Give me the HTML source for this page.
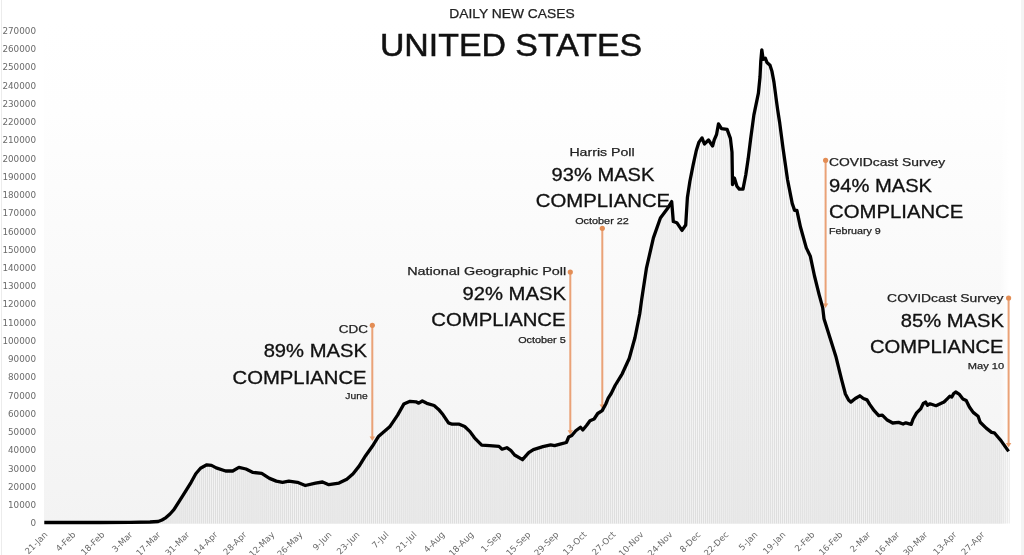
<!DOCTYPE html>
<html lang="en"><head><meta charset="utf-8"><title>Daily New Cases - United States</title>
<style>
html,body{margin:0;padding:0;background:#fff}
body{width:1024px;height:555px;position:relative;overflow:hidden;font-family:"Liberation Sans",sans-serif}
#plot{position:absolute;left:44.4px;top:20px;width:964.6px;height:503.5px;background:linear-gradient(to right,rgba(255,255,255,0) 0,rgba(255,255,255,0) 956px,#fff 100%),linear-gradient(to bottom,#ffffff 0%,#fefefe 18%,#f3f3f3 100%)}
#ledge{position:absolute;left:1px;top:0;width:1px;height:555px;background:#ececec}
#redge{position:absolute;left:1021px;top:0;width:3px;height:555px;background:#f4f4f4}
svg{position:absolute;left:0;top:0}
.yl{position:absolute;left:0;width:36px;text-align:right;font:8.8px/12px "DejaVu Sans","Liberation Sans",sans-serif;color:#6a6a6a;white-space:nowrap}
.xl{position:absolute;top:528px;width:60px;text-align:right;font:8.6px/10px "DejaVu Sans","Liberation Sans",sans-serif;color:#6a6a6a;white-space:nowrap;transform-origin:100% 50%;transform:rotate(-45deg)}
.t{position:absolute;white-space:nowrap}
</style></head><body>
<div id="ledge"></div><div id="redge"></div>
<div id="plot"></div>
<svg width="1024" height="555" viewBox="0 0 1024 555">
<path d="M44.86 522.5h1.1V523.5h-1.1zM46.89 522.5h1.1V523.5h-1.1zM48.91 522.5h1.1V523.5h-1.1zM50.94 522.5h1.1V523.5h-1.1zM52.96 522.5h1.1V523.5h-1.1zM54.99 522.5h1.1V523.5h-1.1zM57.01 522.5h1.1V523.5h-1.1zM59.04 522.5h1.1V523.5h-1.1zM61.06 522.5h1.1V523.5h-1.1zM63.09 522.5h1.1V523.5h-1.1zM65.11 522.5h1.1V523.5h-1.1zM67.14 522.5h1.1V523.5h-1.1zM69.16 522.5h1.1V523.5h-1.1zM71.19 522.5h1.1V523.5h-1.1zM73.21 522.5h1.1V523.5h-1.1zM75.24 522.5h1.1V523.5h-1.1zM77.26 522.5h1.1V523.5h-1.1zM79.29 522.5h1.1V523.5h-1.1zM81.31 522.5h1.1V523.5h-1.1zM83.34 522.5h1.1V523.5h-1.1zM85.36 522.5h1.1V523.5h-1.1zM87.39 522.5h1.1V523.5h-1.1zM89.41 522.5h1.1V523.5h-1.1zM91.44 522.5h1.1V523.5h-1.1zM93.46 522.5h1.1V523.5h-1.1zM95.49 522.5h1.1V523.5h-1.1zM97.51 522.5h1.1V523.5h-1.1zM99.54 522.5h1.1V523.5h-1.1zM101.56 522.5h1.1V523.5h-1.1zM103.59 522.5h1.1V523.5h-1.1zM105.61 522.5h1.1V523.5h-1.1zM107.64 522.5h1.1V523.5h-1.1zM109.66 522.5h1.1V523.5h-1.1zM111.69 522.5h1.1V523.5h-1.1zM113.71 522.5h1.1V523.5h-1.1zM115.74 522.4h1.1V523.5h-1.1zM117.76 522.4h1.1V523.5h-1.1zM119.79 522.4h1.1V523.5h-1.1zM121.81 522.4h1.1V523.5h-1.1zM123.84 522.4h1.1V523.5h-1.1zM125.86 522.4h1.1V523.5h-1.1zM127.89 522.4h1.1V523.5h-1.1zM129.91 522.4h1.1V523.5h-1.1zM131.94 522.4h1.1V523.5h-1.1zM133.96 522.3h1.1V523.5h-1.1zM135.99 522.3h1.1V523.5h-1.1zM138.01 522.2h1.1V523.5h-1.1zM140.04 522.2h1.1V523.5h-1.1zM142.06 522.1h1.1V523.5h-1.1zM144.09 522.1h1.1V523.5h-1.1zM146.11 522.1h1.1V523.5h-1.1zM148.14 522.0h1.1V523.5h-1.1zM150.16 522.0h1.1V523.5h-1.1zM152.19 521.8h1.1V523.5h-1.1zM154.21 521.7h1.1V523.5h-1.1zM156.24 521.6h1.1V523.5h-1.1zM158.26 521.3h1.1V523.5h-1.1zM160.29 520.5h1.1V523.5h-1.1zM162.31 519.5h1.1V523.5h-1.1zM164.34 518.3h1.1V523.5h-1.1zM166.36 516.8h1.1V523.5h-1.1zM168.39 515.0h1.1V523.5h-1.1zM170.41 512.9h1.1V523.5h-1.1zM172.44 510.7h1.1V523.5h-1.1zM174.46 507.9h1.1V523.5h-1.1zM176.49 504.8h1.1V523.5h-1.1zM178.51 501.6h1.1V523.5h-1.1zM180.54 498.4h1.1V523.5h-1.1zM182.56 495.2h1.1V523.5h-1.1zM184.59 491.9h1.1V523.5h-1.1zM186.61 488.7h1.1V523.5h-1.1zM188.64 485.4h1.1V523.5h-1.1zM190.66 482.1h1.1V523.5h-1.1zM192.69 478.4h1.1V523.5h-1.1zM194.71 474.7h1.1V523.5h-1.1zM196.74 472.0h1.1V523.5h-1.1zM198.76 469.6h1.1V523.5h-1.1zM200.79 467.7h1.1V523.5h-1.1zM202.81 466.7h1.1V523.5h-1.1zM204.84 465.6h1.1V523.5h-1.1zM206.86 464.9h1.1V523.5h-1.1zM208.89 465.1h1.1V523.5h-1.1zM210.91 465.4h1.1V523.5h-1.1zM212.94 466.5h1.1V523.5h-1.1zM214.96 467.5h1.1V523.5h-1.1zM216.99 468.3h1.1V523.5h-1.1zM219.01 469.0h1.1V523.5h-1.1zM221.04 469.7h1.1V523.5h-1.1zM223.06 470.3h1.1V523.5h-1.1zM225.09 471.0h1.1V523.5h-1.1zM227.11 471.0h1.1V523.5h-1.1zM229.14 471.0h1.1V523.5h-1.1zM231.16 471.0h1.1V523.5h-1.1zM233.19 470.4h1.1V523.5h-1.1zM235.21 469.2h1.1V523.5h-1.1zM237.24 468.0h1.1V523.5h-1.1zM239.26 467.6h1.1V523.5h-1.1zM241.29 468.1h1.1V523.5h-1.1zM243.31 468.5h1.1V523.5h-1.1zM245.34 469.0h1.1V523.5h-1.1zM247.36 469.9h1.1V523.5h-1.1zM249.39 470.9h1.1V523.5h-1.1zM251.41 471.9h1.1V523.5h-1.1zM253.44 472.5h1.1V523.5h-1.1zM255.46 472.7h1.1V523.5h-1.1zM257.49 473.0h1.1V523.5h-1.1zM259.51 473.2h1.1V523.5h-1.1zM261.54 473.6h1.1V523.5h-1.1zM263.56 474.9h1.1V523.5h-1.1zM265.59 476.2h1.1V523.5h-1.1zM267.61 477.5h1.1V523.5h-1.1zM269.64 478.7h1.1V523.5h-1.1zM271.66 479.5h1.1V523.5h-1.1zM273.69 480.3h1.1V523.5h-1.1zM275.71 481.1h1.1V523.5h-1.1zM277.74 481.5h1.1V523.5h-1.1zM279.76 481.9h1.1V523.5h-1.1zM281.79 482.3h1.1V523.5h-1.1zM283.81 481.9h1.1V523.5h-1.1zM285.84 481.6h1.1V523.5h-1.1zM287.86 481.2h1.1V523.5h-1.1zM289.89 481.3h1.1V523.5h-1.1zM291.91 481.6h1.1V523.5h-1.1zM293.94 481.9h1.1V523.5h-1.1zM295.96 482.2h1.1V523.5h-1.1zM297.99 482.8h1.1V523.5h-1.1zM300.01 483.6h1.1V523.5h-1.1zM302.04 484.4h1.1V523.5h-1.1zM304.06 485.2h1.1V523.5h-1.1zM306.09 485.2h1.1V523.5h-1.1zM308.11 484.7h1.1V523.5h-1.1zM310.14 484.2h1.1V523.5h-1.1zM312.16 483.8h1.1V523.5h-1.1zM314.19 483.3h1.1V523.5h-1.1zM316.21 482.9h1.1V523.5h-1.1zM318.24 482.6h1.1V523.5h-1.1zM320.26 482.3h1.1V523.5h-1.1zM322.29 482.1h1.1V523.5h-1.1zM324.31 483.0h1.1V523.5h-1.1zM326.34 483.9h1.1V523.5h-1.1zM328.36 484.7h1.1V523.5h-1.1zM330.39 484.4h1.1V523.5h-1.1zM332.41 484.0h1.1V523.5h-1.1zM334.44 483.7h1.1V523.5h-1.1zM336.46 483.4h1.1V523.5h-1.1zM338.49 483.1h1.1V523.5h-1.1zM340.51 482.1h1.1V523.5h-1.1zM342.54 481.1h1.1V523.5h-1.1zM344.56 480.0h1.1V523.5h-1.1zM346.59 478.9h1.1V523.5h-1.1zM348.61 477.1h1.1V523.5h-1.1zM350.64 475.4h1.1V523.5h-1.1zM352.66 473.6h1.1V523.5h-1.1zM354.69 471.0h1.1V523.5h-1.1zM356.71 468.5h1.1V523.5h-1.1zM358.74 465.9h1.1V523.5h-1.1zM360.76 462.6h1.1V523.5h-1.1zM362.79 459.4h1.1V523.5h-1.1zM364.81 456.1h1.1V523.5h-1.1zM366.84 453.2h1.1V523.5h-1.1zM368.86 450.3h1.1V523.5h-1.1zM370.89 447.5h1.1V523.5h-1.1zM372.91 444.6h1.1V523.5h-1.1zM374.94 441.4h1.1V523.5h-1.1zM376.96 438.1h1.1V523.5h-1.1zM378.99 435.5h1.1V523.5h-1.1zM381.01 433.8h1.1V523.5h-1.1zM383.04 432.0h1.1V523.5h-1.1zM385.06 430.3h1.1V523.5h-1.1zM387.09 428.6h1.1V523.5h-1.1zM389.11 426.8h1.1V523.5h-1.1zM391.14 423.9h1.1V523.5h-1.1zM393.16 420.9h1.1V523.5h-1.1zM395.19 417.9h1.1V523.5h-1.1zM397.21 414.8h1.1V523.5h-1.1zM399.24 411.2h1.1V523.5h-1.1zM401.26 407.6h1.1V523.5h-1.1zM403.29 404.1h1.1V523.5h-1.1zM405.31 403.2h1.1V523.5h-1.1zM407.34 402.3h1.1V523.5h-1.1zM409.36 401.4h1.1V523.5h-1.1zM411.39 401.5h1.1V523.5h-1.1zM413.41 401.6h1.1V523.5h-1.1zM415.44 401.8h1.1V523.5h-1.1zM417.46 402.8h1.1V523.5h-1.1zM419.49 402.4h1.1V523.5h-1.1zM421.51 401.1h1.1V523.5h-1.1zM423.54 401.9h1.1V523.5h-1.1zM425.56 402.9h1.1V523.5h-1.1zM427.59 403.7h1.1V523.5h-1.1zM429.61 404.3h1.1V523.5h-1.1zM431.64 404.9h1.1V523.5h-1.1zM433.66 405.6h1.1V523.5h-1.1zM435.69 407.4h1.1V523.5h-1.1zM437.71 409.1h1.1V523.5h-1.1zM439.74 411.4h1.1V523.5h-1.1zM441.76 413.9h1.1V523.5h-1.1zM443.79 416.7h1.1V523.5h-1.1zM445.81 419.7h1.1V523.5h-1.1zM447.84 422.7h1.1V523.5h-1.1zM449.86 423.6h1.1V523.5h-1.1zM451.89 424.2h1.1V523.5h-1.1zM453.91 424.2h1.1V523.5h-1.1zM455.94 424.2h1.1V523.5h-1.1zM457.96 424.2h1.1V523.5h-1.1zM459.99 424.7h1.1V523.5h-1.1zM462.01 425.6h1.1V523.5h-1.1zM464.04 426.5h1.1V523.5h-1.1zM466.06 428.3h1.1V523.5h-1.1zM468.09 430.3h1.1V523.5h-1.1zM470.11 432.5h1.1V523.5h-1.1zM472.14 435.3h1.1V523.5h-1.1zM474.16 438.0h1.1V523.5h-1.1zM476.19 440.1h1.1V523.5h-1.1zM478.21 442.2h1.1V523.5h-1.1zM480.24 444.3h1.1V523.5h-1.1zM482.26 445.3h1.1V523.5h-1.1zM484.29 445.4h1.1V523.5h-1.1zM486.31 445.5h1.1V523.5h-1.1zM488.34 445.6h1.1V523.5h-1.1zM490.36 445.7h1.1V523.5h-1.1zM492.39 445.9h1.1V523.5h-1.1zM494.41 446.1h1.1V523.5h-1.1zM496.44 446.2h1.1V523.5h-1.1zM498.46 446.4h1.1V523.5h-1.1zM500.49 448.2h1.1V523.5h-1.1zM502.51 448.9h1.1V523.5h-1.1zM504.54 448.2h1.1V523.5h-1.1zM506.56 447.9h1.1V523.5h-1.1zM508.59 449.3h1.1V523.5h-1.1zM510.61 450.9h1.1V523.5h-1.1zM512.64 453.3h1.1V523.5h-1.1zM514.66 455.4h1.1V523.5h-1.1zM516.69 456.6h1.1V523.5h-1.1zM518.71 457.8h1.1V523.5h-1.1zM520.74 459.0h1.1V523.5h-1.1zM522.76 458.8h1.1V523.5h-1.1zM524.79 456.5h1.1V523.5h-1.1zM526.81 454.2h1.1V523.5h-1.1zM528.84 452.2h1.1V523.5h-1.1zM530.86 450.9h1.1V523.5h-1.1zM532.89 449.6h1.1V523.5h-1.1zM534.91 449.0h1.1V523.5h-1.1zM536.94 448.4h1.1V523.5h-1.1zM538.96 447.7h1.1V523.5h-1.1zM540.99 447.1h1.1V523.5h-1.1zM543.01 446.5h1.1V523.5h-1.1zM545.04 446.1h1.1V523.5h-1.1zM547.06 445.6h1.1V523.5h-1.1zM549.09 445.1h1.1V523.5h-1.1zM551.11 445.1h1.1V523.5h-1.1zM553.14 445.4h1.1V523.5h-1.1zM555.16 445.3h1.1V523.5h-1.1zM557.19 444.7h1.1V523.5h-1.1zM559.21 444.2h1.1V523.5h-1.1zM561.24 443.7h1.1V523.5h-1.1zM563.26 443.2h1.1V523.5h-1.1zM565.29 442.6h1.1V523.5h-1.1zM567.31 439.0h1.1V523.5h-1.1zM569.34 436.4h1.1V523.5h-1.1zM571.36 435.4h1.1V523.5h-1.1zM573.39 433.0h1.1V523.5h-1.1zM575.41 430.7h1.1V523.5h-1.1zM577.44 429.2h1.1V523.5h-1.1zM579.46 427.7h1.1V523.5h-1.1zM581.49 429.1h1.1V523.5h-1.1zM583.51 428.5h1.1V523.5h-1.1zM585.54 426.0h1.1V523.5h-1.1zM587.56 423.3h1.1V523.5h-1.1zM589.59 420.6h1.1V523.5h-1.1zM591.61 419.8h1.1V523.5h-1.1zM593.64 418.9h1.1V523.5h-1.1zM595.66 415.8h1.1V523.5h-1.1zM597.69 413.2h1.1V523.5h-1.1zM599.71 411.8h1.1V523.5h-1.1zM601.74 410.4h1.1V523.5h-1.1zM603.76 406.7h1.1V523.5h-1.1zM605.79 402.7h1.1V523.5h-1.1zM607.81 397.9h1.1V523.5h-1.1zM609.84 394.8h1.1V523.5h-1.1zM611.86 391.0h1.1V523.5h-1.1zM613.89 386.9h1.1V523.5h-1.1zM615.91 383.3h1.1V523.5h-1.1zM617.94 379.9h1.1V523.5h-1.1zM619.96 376.6h1.1V523.5h-1.1zM621.99 373.1h1.1V523.5h-1.1zM624.01 368.6h1.1V523.5h-1.1zM626.04 364.2h1.1V523.5h-1.1zM628.06 359.8h1.1V523.5h-1.1zM630.09 353.3h1.1V523.5h-1.1zM632.11 346.0h1.1V523.5h-1.1zM634.14 338.6h1.1V523.5h-1.1zM636.16 328.9h1.1V523.5h-1.1zM638.19 318.8h1.1V523.5h-1.1zM640.21 306.2h1.1V523.5h-1.1zM642.24 292.2h1.1V523.5h-1.1zM644.26 278.9h1.1V523.5h-1.1zM646.29 266.5h1.1V523.5h-1.1zM648.31 257.7h1.1V523.5h-1.1zM650.34 248.8h1.1V523.5h-1.1zM652.36 240.0h1.1V523.5h-1.1zM654.39 233.5h1.1V523.5h-1.1zM656.41 227.8h1.1V523.5h-1.1zM658.44 222.0h1.1V523.5h-1.1zM660.46 217.2h1.1V523.5h-1.1zM662.49 214.5h1.1V523.5h-1.1zM664.51 211.8h1.1V523.5h-1.1zM666.54 209.1h1.1V523.5h-1.1zM668.56 205.9h1.1V523.5h-1.1zM670.59 202.5h1.1V523.5h-1.1zM672.61 219.8h1.1V523.5h-1.1zM674.64 222.1h1.1V523.5h-1.1zM676.66 223.3h1.1V523.5h-1.1zM678.69 226.3h1.1V523.5h-1.1zM680.71 229.3h1.1V523.5h-1.1zM682.74 228.5h1.1V523.5h-1.1zM684.76 225.6h1.1V523.5h-1.1zM686.79 198.5h1.1V523.5h-1.1zM688.81 184.8h1.1V523.5h-1.1zM690.84 173.8h1.1V523.5h-1.1zM692.86 163.7h1.1V523.5h-1.1zM694.89 154.4h1.1V523.5h-1.1zM696.91 146.7h1.1V523.5h-1.1zM698.94 141.4h1.1V523.5h-1.1zM700.96 138.6h1.1V523.5h-1.1zM702.99 141.8h1.1V523.5h-1.1zM705.01 142.9h1.1V523.5h-1.1zM707.04 140.9h1.1V523.5h-1.1zM709.06 141.6h1.1V523.5h-1.1zM711.09 144.6h1.1V523.5h-1.1zM713.11 142.0h1.1V523.5h-1.1zM715.14 136.5h1.1V523.5h-1.1zM717.16 128.2h1.1V523.5h-1.1zM719.19 125.8h1.1V523.5h-1.1zM721.21 128.6h1.1V523.5h-1.1zM723.24 128.9h1.1V523.5h-1.1zM725.26 129.2h1.1V523.5h-1.1zM727.29 131.4h1.1V523.5h-1.1zM729.31 136.9h1.1V523.5h-1.1zM731.34 151.1h1.1V523.5h-1.1zM733.36 179.7h1.1V523.5h-1.1zM735.39 183.0h1.1V523.5h-1.1zM737.41 187.5h1.1V523.5h-1.1zM739.44 189.1h1.1V523.5h-1.1zM741.46 189.1h1.1V523.5h-1.1zM743.49 183.8h1.1V523.5h-1.1zM745.51 173.0h1.1V523.5h-1.1zM747.54 159.4h1.1V523.5h-1.1zM749.56 143.1h1.1V523.5h-1.1zM751.59 127.9h1.1V523.5h-1.1zM753.61 113.6h1.1V523.5h-1.1zM755.64 103.9h1.1V523.5h-1.1zM757.66 94.1h1.1V523.5h-1.1zM759.69 72.2h1.1V523.5h-1.1zM761.71 53.0h1.1V523.5h-1.1zM763.74 58.8h1.1V523.5h-1.1zM765.76 60.7h1.1V523.5h-1.1zM767.79 63.8h1.1V523.5h-1.1zM769.81 66.4h1.1V523.5h-1.1zM771.84 73.7h1.1V523.5h-1.1zM773.86 85.5h1.1V523.5h-1.1zM775.89 100.8h1.1V523.5h-1.1zM777.91 114.9h1.1V523.5h-1.1zM779.94 128.8h1.1V523.5h-1.1zM781.96 144.3h1.1V523.5h-1.1zM783.99 158.8h1.1V523.5h-1.1zM786.01 172.8h1.1V523.5h-1.1zM788.04 185.0h1.1V523.5h-1.1zM790.06 195.3h1.1V523.5h-1.1zM792.09 204.7h1.1V523.5h-1.1zM794.11 210.4h1.1V523.5h-1.1zM796.14 210.4h1.1V523.5h-1.1zM798.16 218.9h1.1V523.5h-1.1zM800.19 228.0h1.1V523.5h-1.1zM802.21 235.2h1.1V523.5h-1.1zM804.24 242.5h1.1V523.5h-1.1zM806.26 249.0h1.1V523.5h-1.1zM808.29 253.1h1.1V523.5h-1.1zM810.31 258.8h1.1V523.5h-1.1zM812.34 268.4h1.1V523.5h-1.1zM814.36 277.6h1.1V523.5h-1.1zM816.39 285.7h1.1V523.5h-1.1zM818.41 293.8h1.1V523.5h-1.1zM820.44 301.3h1.1V523.5h-1.1zM822.46 310.3h1.1V523.5h-1.1zM824.49 322.0h1.1V523.5h-1.1zM826.51 328.5h1.1V523.5h-1.1zM828.54 334.9h1.1V523.5h-1.1zM830.56 341.3h1.1V523.5h-1.1zM832.59 347.8h1.1V523.5h-1.1zM834.61 354.2h1.1V523.5h-1.1zM836.64 361.8h1.1V523.5h-1.1zM838.66 370.0h1.1V523.5h-1.1zM840.69 378.1h1.1V523.5h-1.1zM842.71 385.9h1.1V523.5h-1.1zM844.74 393.6h1.1V523.5h-1.1zM846.76 397.6h1.1V523.5h-1.1zM848.79 400.7h1.1V523.5h-1.1zM850.81 401.7h1.1V523.5h-1.1zM852.84 400.0h1.1V523.5h-1.1zM854.86 398.4h1.1V523.5h-1.1zM856.89 397.2h1.1V523.5h-1.1zM858.91 396.0h1.1V523.5h-1.1zM860.94 397.1h1.1V523.5h-1.1zM862.96 398.5h1.1V523.5h-1.1zM864.99 399.3h1.1V523.5h-1.1zM867.01 400.8h1.1V523.5h-1.1zM869.04 404.2h1.1V523.5h-1.1zM871.06 407.1h1.1V523.5h-1.1zM873.09 409.9h1.1V523.5h-1.1zM875.11 412.3h1.1V523.5h-1.1zM877.14 414.5h1.1V523.5h-1.1zM879.16 415.5h1.1V523.5h-1.1zM881.19 415.3h1.1V523.5h-1.1zM883.21 416.7h1.1V523.5h-1.1zM885.24 418.7h1.1V523.5h-1.1zM887.26 420.3h1.1V523.5h-1.1zM889.29 421.4h1.1V523.5h-1.1zM891.31 422.5h1.1V523.5h-1.1zM893.34 422.9h1.1V523.5h-1.1zM895.36 422.7h1.1V523.5h-1.1zM897.39 422.5h1.1V523.5h-1.1zM899.41 422.9h1.1V523.5h-1.1zM901.44 423.6h1.1V523.5h-1.1zM903.46 423.6h1.1V523.5h-1.1zM905.49 422.9h1.1V523.5h-1.1zM907.51 423.5h1.1V523.5h-1.1zM909.54 424.1h1.1V523.5h-1.1zM911.56 421.8h1.1V523.5h-1.1zM913.59 417.2h1.1V523.5h-1.1zM915.61 413.7h1.1V523.5h-1.1zM917.64 411.3h1.1V523.5h-1.1zM919.66 409.3h1.1V523.5h-1.1zM921.69 405.6h1.1V523.5h-1.1zM923.71 402.9h1.1V523.5h-1.1zM925.74 403.3h1.1V523.5h-1.1zM927.76 404.8h1.1V523.5h-1.1zM929.79 403.9h1.1V523.5h-1.1zM931.81 404.5h1.1V523.5h-1.1zM933.84 405.2h1.1V523.5h-1.1zM935.86 405.5h1.1V523.5h-1.1zM937.89 404.6h1.1V523.5h-1.1zM939.91 403.6h1.1V523.5h-1.1zM941.94 402.7h1.1V523.5h-1.1zM943.96 401.5h1.1V523.5h-1.1zM945.99 399.5h1.1V523.5h-1.1zM948.01 397.5h1.1V523.5h-1.1zM950.04 396.5h1.1V523.5h-1.1zM952.06 395.6h1.1V523.5h-1.1zM954.09 392.8h1.1V523.5h-1.1zM956.11 392.6h1.1V523.5h-1.1zM958.14 393.8h1.1V523.5h-1.1zM960.16 396.1h1.1V523.5h-1.1zM962.19 398.7h1.1V523.5h-1.1zM964.21 399.8h1.1V523.5h-1.1zM966.24 401.7h1.1V523.5h-1.1zM968.26 405.8h1.1V523.5h-1.1zM970.29 409.0h1.1V523.5h-1.1zM972.31 411.9h1.1V523.5h-1.1zM974.34 413.7h1.1V523.5h-1.1zM976.36 415.3h1.1V523.5h-1.1zM978.39 418.6h1.1V523.5h-1.1zM980.41 422.9h1.1V523.5h-1.1zM982.44 424.9h1.1V523.5h-1.1zM984.46 426.9h1.1V523.5h-1.1zM986.49 428.8h1.1V523.5h-1.1zM988.51 430.4h1.1V523.5h-1.1zM990.54 432.0h1.1V523.5h-1.1zM992.56 432.6h1.1V523.5h-1.1zM994.59 433.8h1.1V523.5h-1.1zM996.61 436.2h1.1V523.5h-1.1zM998.64 438.5h1.1V523.5h-1.1zM1000.66 441.0h1.1V523.5h-1.1zM1002.69 443.8h1.1V523.5h-1.1zM1004.71 446.7h1.1V523.5h-1.1zM1006.74 449.5h1.1V523.5h-1.1zM1008.76 451.4h1.1V523.5h-1.1z" fill="#000" fill-opacity="0.085"/>
<line x1="372.3" y1="325.3" x2="372.3" y2="438" stroke="#eaa277" stroke-width="2"/><circle cx="372.3" cy="325.3" r="2.6" fill="#e38d55"/><path d="M369.6 436.6L372.3 441L375.0 436.6z" fill="#e89c6b"/><line x1="570.3" y1="272.1" x2="570.3" y2="431.7" stroke="#eaa277" stroke-width="2"/><circle cx="570.3" cy="272.1" r="2.6" fill="#e38d55"/><path d="M567.6 430.3L570.3 434.7L573.0 430.3z" fill="#e89c6b"/><line x1="602.3" y1="228.3" x2="602.3" y2="406" stroke="#eaa277" stroke-width="2"/><circle cx="602.3" cy="228.3" r="2.6" fill="#e38d55"/><path d="M599.6 404.6L602.3 409L605.0 404.6z" fill="#e89c6b"/><line x1="825.6" y1="160.3" x2="825.6" y2="305" stroke="#eaa277" stroke-width="2"/><circle cx="825.6" cy="160.3" r="2.6" fill="#e38d55"/><path d="M822.9 303.6L825.6 308L828.3 303.6z" fill="#e89c6b"/><line x1="1008.6" y1="298" x2="1008.6" y2="444.5" stroke="#eaa277" stroke-width="2"/><circle cx="1008.6" cy="298" r="2.6" fill="#e38d55"/><path d="M1005.9 443.1L1008.6 447.5L1011.3 443.1z" fill="#e89c6b"/>
<path d="M44.3 522.5 L100.0 522.5 L130.0 522.4 L150.0 522.0 L158.2 521.5 L162.0 520.0 L166.0 517.6 L170.0 514.0 L173.9 509.7 L183.3 494.9 L191.1 482.3 L195.8 473.7 L200.5 468.2 L206.8 464.8 L211.5 465.4 L216.2 467.9 L225.6 471.0 L232.7 471.0 L238.9 467.4 L246.0 469.0 L253.0 472.4 L261.7 473.4 L269.5 478.4 L276.3 481.1 L282.5 482.3 L288.8 481.1 L297.4 482.3 L305.3 485.5 L315.5 483.1 L322.5 482.0 L328.8 484.7 L339.0 483.1 L346.8 479.2 L353.1 473.7 L359.3 465.9 L365.6 455.7 L373.4 444.7 L378.7 436.2 L389.7 426.8 L397.6 415.1 L403.8 404.1 L410.1 401.3 L416.0 401.8 L418.7 403.2 L422.3 401.0 L426.8 403.3 L434.1 405.5 L438.6 409.4 L443.1 414.8 L448.5 422.9 L452.1 424.2 L459.3 424.2 L464.7 426.5 L470.0 431.6 L474.5 437.8 L481.7 445.2 L489.6 445.6 L499.0 446.4 L502.1 449.2 L506.8 447.7 L510.7 450.3 L514.6 455.0 L522.5 459.7 L528.7 452.7 L533.4 449.6 L542.9 446.7 L550.7 444.9 L554.6 445.6 L560.1 444.1 L566.4 442.5 L568.7 437.0 L571.8 435.5 L575.8 430.8 L580.5 427.3 L582.8 430.0 L586.7 425.3 L590.0 420.7 L594.1 419.0 L597.7 413.5 L602.2 410.6 L605.8 404.0 L608.2 398.2 L611.2 393.5 L615.1 385.5 L622.2 373.8 L629.2 358.5 L635.0 337.5 L639.7 314.0 L641.6 300.0 L646.4 268.4 L653.4 237.9 L660.4 218.0 L667.5 208.6 L671.7 201.6 L673.3 221.5 L676.8 222.7 L682.0 230.4 L685.7 225.0 L687.4 197.5 L689.9 181.3 L693.1 165.1 L696.3 150.5 L698.8 142.4 L702.0 137.9 L704.4 144.0 L708.5 140.0 L712.6 146.0 L714.2 140.0 L716.6 134.3 L718.5 123.8 L721.5 128.6 L727.1 129.4 L730.4 138.4 L732.0 152.1 L732.5 184.5 L734.4 178.0 L736.9 186.2 L739.3 189.1 L743.0 189.1 L745.8 174.8 L748.2 158.6 L750.6 139.2 L753.9 114.9 L758.4 93.2 L760.0 77.0 L760.8 60.8 L761.8 49.8 L763.2 59.4 L765.4 58.2 L767.0 62.6 L770.0 65.3 L772.0 71.6 L774.0 82.4 L776.0 97.6 L777.7 110.0 L779.8 123.6 L783.2 149.5 L787.6 180.0 L792.2 203.4 L794.6 210.4 L796.9 210.4 L800.4 226.8 L806.3 247.9 L810.3 256.1 L814.5 276.0 L819.2 294.8 L822.7 307.6 L824.0 318.7 L829.9 337.5 L835.8 356.2 L841.6 379.6 L845.4 394.0 L848.6 400.0 L850.8 402.1 L855.3 398.5 L859.8 395.8 L863.4 398.5 L867.0 399.9 L869.7 404.4 L874.2 410.7 L878.7 415.6 L882.3 415.2 L886.8 419.7 L892.7 423.0 L898.6 422.4 L903.1 424.0 L905.8 422.8 L911.2 424.4 L913.0 419.2 L916.6 412.9 L920.6 408.9 L923.3 403.5 L925.6 402.1 L927.4 405.3 L930.0 403.8 L936.0 405.7 L942.3 402.8 L944.0 402.0 L947.2 398.9 L949.9 396.2 L951.8 397.1 L953.7 393.5 L955.7 392.0 L959.1 394.1 L962.9 398.9 L966.2 400.5 L969.4 407.0 L973.2 412.4 L978.1 416.2 L980.2 422.2 L986.2 428.1 L991.6 432.4 L994.3 432.8 L998.1 437.3 L1000.8 440.4 L1008.6 451.4" fill="none" stroke="#000" stroke-width="3.3" stroke-linejoin="round" stroke-linecap="butt"/>
</svg>
<div class="yl" style="top:517.20px">0</div><div class="yl" style="top:498.97px">10000</div><div class="yl" style="top:480.74px">20000</div><div class="yl" style="top:462.51px">30000</div><div class="yl" style="top:444.28px">40000</div><div class="yl" style="top:426.05px">50000</div><div class="yl" style="top:407.82px">60000</div><div class="yl" style="top:389.59px">70000</div><div class="yl" style="top:371.36px">80000</div><div class="yl" style="top:353.13px">90000</div><div class="yl" style="top:334.90px">100000</div><div class="yl" style="top:316.67px">110000</div><div class="yl" style="top:298.44px">120000</div><div class="yl" style="top:280.21px">130000</div><div class="yl" style="top:261.98px">140000</div><div class="yl" style="top:243.75px">150000</div><div class="yl" style="top:225.52px">160000</div><div class="yl" style="top:207.29px">170000</div><div class="yl" style="top:189.06px">180000</div><div class="yl" style="top:170.83px">190000</div><div class="yl" style="top:152.60px">200000</div><div class="yl" style="top:134.37px">210000</div><div class="yl" style="top:116.14px">220000</div><div class="yl" style="top:97.91px">230000</div><div class="yl" style="top:79.68px">240000</div><div class="yl" style="top:61.45px">250000</div><div class="yl" style="top:43.22px">260000</div><div class="yl" style="top:24.99px">270000</div>
<div class="xl" style="left:-14.30px">21-Jan</div><div class="xl" style="left:14.11px">4-Feb</div><div class="xl" style="left:42.51px">18-Feb</div><div class="xl" style="left:70.92px">3-Mar</div><div class="xl" style="left:99.32px">17-Mar</div><div class="xl" style="left:127.73px">31-Mar</div><div class="xl" style="left:156.13px">14-Apr</div><div class="xl" style="left:184.54px">28-Apr</div><div class="xl" style="left:212.94px">12-May</div><div class="xl" style="left:241.35px">26-May</div><div class="xl" style="left:269.75px">9-Jun</div><div class="xl" style="left:298.16px">23-Jun</div><div class="xl" style="left:326.56px">7-Jul</div><div class="xl" style="left:354.96px">21-Jul</div><div class="xl" style="left:383.37px">4-Aug</div><div class="xl" style="left:411.78px">18-Aug</div><div class="xl" style="left:440.18px">1-Sep</div><div class="xl" style="left:468.59px">15-Sep</div><div class="xl" style="left:496.99px">29-Sep</div><div class="xl" style="left:525.40px">13-Oct</div><div class="xl" style="left:553.80px">27-Oct</div><div class="xl" style="left:582.21px">10-Nov</div><div class="xl" style="left:610.61px">24-Nov</div><div class="xl" style="left:639.02px">8-Dec</div><div class="xl" style="left:667.42px">22-Dec</div><div class="xl" style="left:695.83px">5-Jan</div><div class="xl" style="left:724.23px">19-Jan</div><div class="xl" style="left:752.64px">2-Feb</div><div class="xl" style="left:781.04px">16-Feb</div><div class="xl" style="left:809.45px">2-Mar</div><div class="xl" style="left:837.85px">16-Mar</div><div class="xl" style="left:866.26px">30-Mar</div><div class="xl" style="left:894.66px">13-Apr</div><div class="xl" style="left:923.07px">27-Apr</div>
<div class="t" style="top:8.18px;left:311.53px;width:400px;text-align:center;transform-origin:50% 50%;font-size:12.3px;line-height:13.739px;transform:scaleX(1.1231);color:#222;-webkit-text-stroke:0.25px #222">DAILY NEW CASES</div><div class="t" style="top:28.39px;left:311.03px;width:400px;text-align:center;transform-origin:50% 50%;font-size:31.5px;line-height:35.185px;transform:scaleX(1.0751);color:#111;-webkit-text-stroke:0.5px #111">UNITED STATES</div><div class="t" style="top:322.85px;right:656.58px;text-align:right;transform-origin:100% 50%;font-size:11.5px;line-height:12.845px;transform:scaleX(1.1712);color:#222;-webkit-text-stroke:0.25px #222">CDC</div><div class="t" style="top:341.79px;right:656.94px;text-align:right;transform-origin:100% 50%;font-size:17.8px;line-height:19.883px;transform:scaleX(1.1360);color:#111;-webkit-text-stroke:0.3px #111">89% MASK</div><div class="t" style="top:368.94px;right:657.24px;text-align:right;transform-origin:100% 50%;font-size:17.8px;line-height:19.883px;transform:scaleX(1.1397);color:#111;-webkit-text-stroke:0.3px #111">COMPLIANCE</div><div class="t" style="top:390.87px;right:656.53px;text-align:right;transform-origin:100% 50%;font-size:9.5px;line-height:10.611px;transform:scaleX(1.0812);color:#222;-webkit-text-stroke:0.25px #222">June</div><div class="t" style="top:265.35px;right:457.85px;text-align:right;transform-origin:100% 50%;font-size:11.5px;line-height:12.845px;transform:scaleX(1.2498);color:#222;-webkit-text-stroke:0.25px #222">National Geographic Poll</div><div class="t" style="top:285.19px;right:457.75px;text-align:right;transform-origin:100% 50%;font-size:17.8px;line-height:19.883px;transform:scaleX(1.1385);color:#111;-webkit-text-stroke:0.3px #111">92% MASK</div><div class="t" style="top:311.34px;right:458.05px;text-align:right;transform-origin:100% 50%;font-size:17.8px;line-height:19.883px;transform:scaleX(1.1424);color:#111;-webkit-text-stroke:0.3px #111">COMPLIANCE</div><div class="t" style="top:334.87px;right:458.72px;text-align:right;transform-origin:100% 50%;font-size:9.5px;line-height:10.611px;transform:scaleX(1.1407);color:#222;-webkit-text-stroke:0.25px #222">October 5</div><div class="t" style="top:146.35px;left:402.45px;width:400px;text-align:center;transform-origin:50% 50%;font-size:11.5px;line-height:12.845px;transform:scaleX(1.2284);color:#222;-webkit-text-stroke:0.25px #222">Harris Poll</div><div class="t" style="top:166.09px;left:402.57px;width:400px;text-align:center;transform-origin:50% 50%;font-size:17.8px;line-height:19.883px;transform:scaleX(1.1301);color:#111;-webkit-text-stroke:0.3px #111">93% MASK</div><div class="t" style="top:192.19px;left:402.75px;width:400px;text-align:center;transform-origin:50% 50%;font-size:17.8px;line-height:19.883px;transform:scaleX(1.1429);color:#111;-webkit-text-stroke:0.3px #111">COMPLIANCE</div><div class="t" style="top:215.61px;left:402.37px;width:400px;text-align:center;transform-origin:50% 50%;font-size:9.5px;line-height:10.611px;transform:scaleX(1.1408);color:#222;-webkit-text-stroke:0.25px #222">October 22</div><div class="t" style="top:156.05px;left:829.07px;transform-origin:0 50%;font-size:11.5px;line-height:12.845px;transform:scaleX(1.2027);color:#222;-webkit-text-stroke:0.25px #222">COVIDcast Survey</div><div class="t" style="top:177.19px;left:829.48px;transform-origin:0 50%;font-size:17.8px;line-height:19.883px;transform:scaleX(1.1336);color:#111;-webkit-text-stroke:0.3px #111">94% MASK</div><div class="t" style="top:202.84px;left:829.44px;transform-origin:0 50%;font-size:17.8px;line-height:19.883px;transform:scaleX(1.1424);color:#111;-webkit-text-stroke:0.3px #111">COMPLIANCE</div><div class="t" style="top:225.79px;left:828.88px;transform-origin:0 50%;font-size:9.5px;line-height:10.611px;transform:scaleX(1.1272);color:#222;-webkit-text-stroke:0.25px #222">February 9</div><div class="t" style="top:292.25px;right:20.33px;text-align:right;transform-origin:100% 50%;font-size:11.5px;line-height:12.845px;transform:scaleX(1.2060);color:#222;-webkit-text-stroke:0.25px #222">COVIDcast Survey</div><div class="t" style="top:312.19px;right:20.50px;text-align:right;transform-origin:100% 50%;font-size:17.8px;line-height:19.883px;transform:scaleX(1.1345);color:#111;-webkit-text-stroke:0.3px #111">85% MASK</div><div class="t" style="top:337.99px;right:19.94px;text-align:right;transform-origin:100% 50%;font-size:17.8px;line-height:19.883px;transform:scaleX(1.1362);color:#111;-webkit-text-stroke:0.3px #111">COMPLIANCE</div><div class="t" style="top:361.45px;right:19.63px;text-align:right;transform-origin:100% 50%;font-size:9.5px;line-height:10.611px;transform:scaleX(1.1665);color:#222;-webkit-text-stroke:0.25px #222">May 10</div>
</body></html>
